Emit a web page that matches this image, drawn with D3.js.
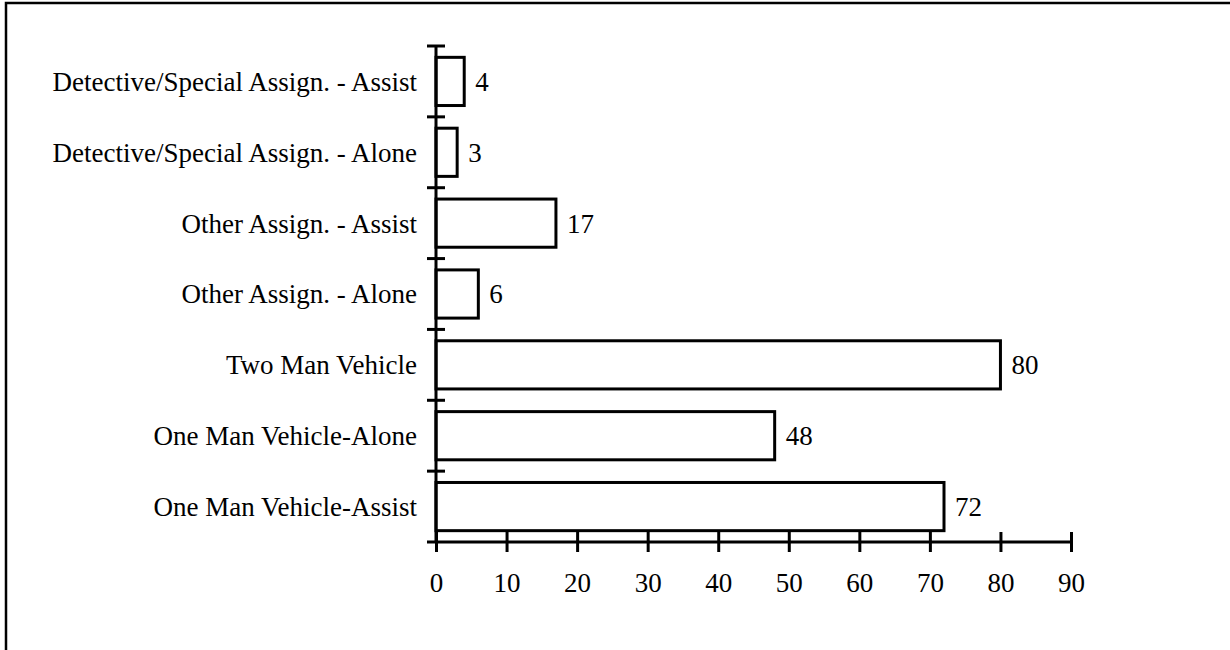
<!DOCTYPE html>
<html>
<head>
<meta charset="utf-8">
<script src="https://cdn.jsdelivr.net/npm/d3@7"></script>
<style>
  body { margin: 0; background: #fff; }
  text { font-family: "Liberation Serif", "Times New Roman", serif; fill: #000; }
</style>
</head>
<body>
<div id="chart"></div>
<script>
// data, bottom to top as in the picture
var categories = ["One Man Vehicle-Assist", "One Man Vehicle-Alone", "Two Man Vehicle",
  "Other Assign. - Alone", "Other Assign. - Assist",
  "Detective/Special Assign. - Alone", "Detective/Special Assign. - Assist"];
var values = [72, 48, 80, 6, 17, 3, 4];
var xTicks = [0, 10, 20, 30, 40, 50, 60, 70, 80, 90];

var W = 1230, H = 650;
var fontSize = "27px";
var margin = {top: 46, right: 159, bottom: 108, left: 436},
    width = W - margin.left - margin.right,
    height = H - margin.top - margin.bottom;

var svg = d3.select("#chart")
  .append("svg")
    .attr("width", W)
    .attr("height", H);

// frame (only left and top edges show inside the window)
svg.append("rect")
  .attr("x", 6).attr("y", 3)
  .attr("width", W + 20).attr("height", H + 20)
  .attr("fill", "none")
  .attr("stroke", "#000")
  .attr("stroke-width", 2.5);

var g = svg.append("g")
  .attr("transform", `translate(${margin.left},${margin.top})`);

var x = d3.scaleLinear()
  .domain([0, 90])
  .range([0, width]);

var y = d3.scaleBand()
  .domain(categories.slice().reverse())
  .range([0, height])
  .paddingInner(0.32)
  .paddingOuter(0.16);

var yEdges = d3.scaleBand()
  .domain(categories.slice().reverse())
  .range([0, height]);

// bars
g.selectAll("rect.bar")
  .data(categories)
  .join("rect")
    .attr("class", "bar")
    .attr("x", x(0))
    .attr("y", d => y(d))
    .attr("width", (d, i) => x(values[i]) - x(0))
    .attr("height", y.bandwidth())
    .attr("fill", "#fff")
    .attr("stroke", "#000")
    .attr("stroke-width", 3);

// value labels
g.selectAll("text.val")
  .data(categories)
  .join("text")
    .attr("class", "val")
    .attr("x", (d, i) => x(values[i]) + 11)
    .attr("y", d => y(d) + y.bandwidth() / 2)
    .attr("dy", "0.35em")
    .style("font-size", fontSize)
    .text((d, i) => values[i]);

// y axis: line + ticks at band edges
g.append("line")
  .attr("x1", 0).attr("x2", 0)
  .attr("y1", 0).attr("y2", height)
  .attr("stroke", "#000").attr("stroke-width", 3);

var edges = categories.slice().reverse().map(d => yEdges(d));
g.selectAll("line.ytick")
  .data(edges)
  .join("line")
    .attr("class", "ytick")
    .attr("x1", -9).attr("x2", 9)
    .attr("y1", d => d).attr("y2", d => d)
    .attr("stroke", "#000").attr("stroke-width", 3);

g.selectAll("text.cat")
  .data(categories)
  .join("text")
    .attr("class", "cat")
    .attr("x", -19)
    .attr("y", d => yEdges(d) + yEdges.bandwidth() / 2)
    .attr("dy", "0.35em")
    .attr("text-anchor", "end")
    .style("font-size", fontSize)
    .text(d => d);

// x axis
var xAxis = g.append("g")
  .attr("transform", `translate(0, ${height})`)
  .call(d3.axisBottom(x).tickValues(xTicks).tickSize(0).tickPadding(31).tickFormat(d3.format("d")));

xAxis.select(".domain")
  .attr("d", `M${-9},0H${x(90)}`)
  .attr("stroke", "#000")
  .attr("stroke-width", 3);

xAxis.selectAll(".tick line")
  .attr("y1", -10).attr("y2", 10)
  .attr("stroke", "#000")
  .attr("stroke-width", 3);

xAxis.selectAll(".tick text")
  .style("font-size", fontSize)
  .style("font-family", "Liberation Serif, Times New Roman, serif")
  .attr("fill", "#000");
</script>
</body>
</html>
